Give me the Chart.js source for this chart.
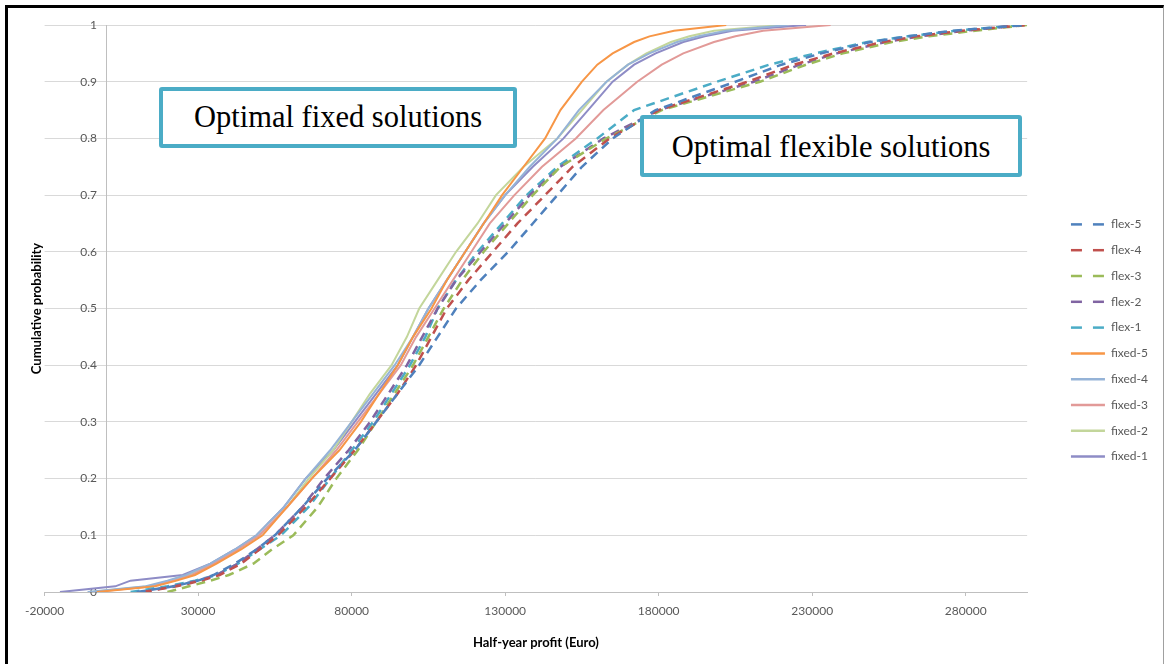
<!DOCTYPE html>
<html><head><meta charset="utf-8">
<script src="https://cdn.jsdelivr.net/npm/chart.js@4"></script>
<style>
html,body{margin:0;padding:0;background:#fff;}
#wrap{position:relative;width:1166px;height:664px;overflow:hidden;background:#fff;}
#frame{position:absolute;left:5px;top:5px;width:1155px;height:720px;border-left:3px solid #000;border-top:3px solid #000;border-right:1px solid #a0a0a0;}
canvas{position:absolute;left:0;top:0;}
.note{position:absolute;box-sizing:border-box;border:4px solid #4BACC6;border-radius:3px;background:#fff;font-family:"Liberation Serif","DejaVu Serif",serif;font-size:30.5px;color:#000;display:flex;align-items:center;justify-content:center;white-space:nowrap;}
</style></head>
<body>
<div id="wrap">
<div id="frame"></div>
<canvas id="c" width="1166" height="664"></canvas>
<div class="note" style="left:159px;top:87px;width:358px;height:61px;">Optimal fixed solutions</div>
<div class="note" style="left:640px;top:115px;width:382px;height:62px;padding-top:2px;">Optimal flexible solutions</div>
</div>
<script>
// cumulative probability levels (y)
const probLevels = [0, 0.01, 0.02, 0.03, 0.05, 0.075, 0.1, 0.15, 0.2, 0.25, 0.3, 0.35, 0.4, 0.45, 0.5, 0.55, 0.6, 0.65, 0.7, 0.75, 0.8, 0.85, 0.9, 0.93, 0.95, 0.97, 0.98, 0.99, 1];

// half-year profit (Euro) at each probability level
const flex5 = [10000, 22000, 30000, 35000, 42000, 49000, 55000, 64000, 72000, 81000, 88000, 95000, 102000, 108000, 114000, 122000, 131000, 139000, 147000, 155000, 165000, 179000, 205000, 220000, 233000, 249000, 261000, 276000, 300000];
const flex4 = [12000, 23000, 31000, 37000, 44000, 50000, 56000, 65000, 73000, 81000, 88000, 95000, 101000, 106000, 111000, 118000, 126000, 134000, 143000, 152000, 164000, 180000, 209000, 224000, 237000, 253000, 264000, 279000, 300000];
const flex3 = [20000, 27000, 34000, 40000, 48000, 54000, 61000, 69000, 75000, 82000, 88000, 94000, 100000, 105000, 110000, 116000, 123000, 131000, 139000, 148000, 163000, 181000, 213000, 228000, 240000, 256000, 268000, 283000, 300000];
const flex2 = [12000, 22000, 30000, 36000, 43000, 49000, 55000, 64000, 71000, 79000, 86000, 92000, 98000, 103000, 108000, 114000, 122000, 130000, 138000, 148000, 162000, 180000, 211000, 226000, 238000, 254000, 265000, 280000, 298000];
const flex1 = [8000, 20000, 29000, 36000, 43000, 50000, 57000, 66000, 73000, 80000, 87000, 93000, 99000, 104000, 108000, 114000, 121000, 129000, 137000, 147000, 160000, 172000, 199000, 216000, 231000, 248000, 261000, 277000, 298000];
const fixed5 = [-3000, 16000, 23000, 29000, 36000, 44000, 51000, 59000, 67000, 76000, 83000, 89000, 95000, 100000, 106000, 111000, 117000, 123000, 129000, 136000, 143000, 148000, 155000, 160000, 165000, 172000, 177000, 185000, 202000];
const fixed4 = [-6000, 13000, 20000, 26000, 34000, 42000, 49000, 58000, 65000, 73000, 80000, 87000, 94000, 100000, 105000, 111000, 117000, 123000, 130000, 138000, 147000, 154000, 163000, 170000, 177000, 186000, 193000, 202000, 222000];
const fixed3 = [-4000, 15000, 22000, 28000, 35000, 43000, 50000, 59000, 67000, 75000, 82000, 89000, 96000, 101000, 107000, 113000, 119000, 125000, 133000, 142000, 153000, 162000, 173000, 181000, 188000, 198000, 205000, 214000, 236000];
const fixed2 = [-5000, 14000, 21000, 27000, 35000, 43000, 50000, 59000, 66000, 74000, 80000, 86000, 93000, 98000, 102000, 108000, 114000, 121000, 127000, 136000, 147000, 155000, 163000, 170000, 176000, 184000, 190000, 198000, 220000];
const fixed1 = [-15000, 3000, 8000, 25000, 34000, 42000, 49000, 58000, 65000, 74000, 81000, 88000, 95000, 100000, 105000, 111000, 117000, 123000, 130000, 139000, 149000, 157000, 165000, 172000, 179000, 188000, 195000, 204000, 228000];

const seriesNames = ['flex-5', 'flex-4', 'flex-3', 'flex-2', 'flex-1', 'fixed-5', 'fixed-4', 'fixed-3', 'fixed-2', 'fixed-1'];
const seriesValues = [flex5, flex4, flex3, flex2, flex1, fixed5, fixed4, fixed3, fixed2, fixed1];

const xTickValues = [-20000, 30000, 80000, 130000, 180000, 230000, 280000];
const yTickValues = [0, 0.1, 0.2, 0.3, 0.4, 0.5, 0.6, 0.7, 0.8, 0.9, 1];

// styles
const seriesColors = ['#4F81BD', '#C0504D', '#9BBB59', '#8064A2', '#4BACC6', '#F79646', '#95B3D7', '#E29A98', '#C3D69B', '#8E8CC6'];
const seriesDashed = [true, true, true, true, true, false, false, false, false, false];

const FONT = 'Lato, "Liberation Sans", sans-serif';
Chart.defaults.font.family = FONT;
Chart.defaults.font.size = 12;
Chart.defaults.color = '#595959';

const datasets = seriesNames.map((name, i) => ({
  label: name,
  data: seriesValues[i].map((v, k) => ({x: v, y: probLevels[k]})),
  borderColor: seriesColors[i],
  backgroundColor: seriesColors[i],
  borderWidth: seriesDashed[i] ? 2.5 : 2,
  borderDash: seriesDashed[i] ? [9, 6] : [],
  pointRadius: 0,
  tension: 0,
  fill: false,
  xAxisID: 'x',
  yAxisID: 'y'
}));

new Chart(document.getElementById('c'), {
  type: 'line',
  data: { datasets },
  options: {
    responsive: false,
    animation: false,
    layout: { padding: { left: 25, top: 25, right: 8, bottom: 8 } },
    plugins: {
      tooltip: { enabled: false },
      legend: {
        position: 'right',
        labels: {
          usePointStyle: true,
          pointStyle: 'line',
          pointStyleWidth: 34,
          padding: 13.8,
          color: '#595959',
          font: { size: 12 },
          generateLabels(chart) {
            const items = Chart.defaults.plugins.legend.labels.generateLabels(chart);
            items.forEach(it => {
              const dashed = seriesDashed[it.datasetIndex];
              it.lineDash = dashed ? [11, 11] : [];
              it.lineWidth = 2.5;
              it.strokeStyle = seriesColors[it.datasetIndex];
            });
            return items;
          }
        }
      }
    },
    scales: {
      x: {
        type: 'linear',
        min: -20000,
        max: 300000,
        afterBuildTicks(axis) { axis.ticks = xTickValues.map(v => ({ value: v })); },
        grid: { drawOnChartArea: false, drawTicks: true, tickLength: 4, color: '#bfbfbf' },
        border: { color: '#bfbfbf' },
        ticks: { padding: 8, maxRotation: 0, autoSkip: false, color: '#595959', font: { size: 12 }, callback: v => String(v) },
        title: { display: true, text: 'Half-year profit (Euro)', color: '#000', font: { weight: 'bold', size: 13 }, padding: { top: 9, bottom: 5 } }
      },
      y: {
        type: 'linear',
        position: { x: 0 },
        min: 0,
        max: 1,
        afterBuildTicks(axis) { axis.ticks = yTickValues.map(v => ({ value: v })); },
        grid: { color: '#d9d9d9', drawTicks: false },
        border: { color: '#bfbfbf' },
        ticks: { padding: 13, color: '#595959', font: { size: 12 }, callback: v => String(v) + '\u2003' }
      },
      yT: {
        type: 'linear',
        position: 'left',
        grid: { display: false, drawTicks: false },
        border: { display: false },
        ticks: { display: false },
        title: { display: true, text: 'Cumulative probability', color: '#000', font: { weight: 'bold', size: 13 }, padding: { top: 4, bottom: 0 } }
      },
      yR: {
        type: 'linear',
        position: 'right',
        grid: { display: false, drawTicks: false },
        border: { display: false },
        ticks: { display: false },
        afterFit(s) { s.width = 30; }
      }
    }
  }
});
</script>
</body></html>
